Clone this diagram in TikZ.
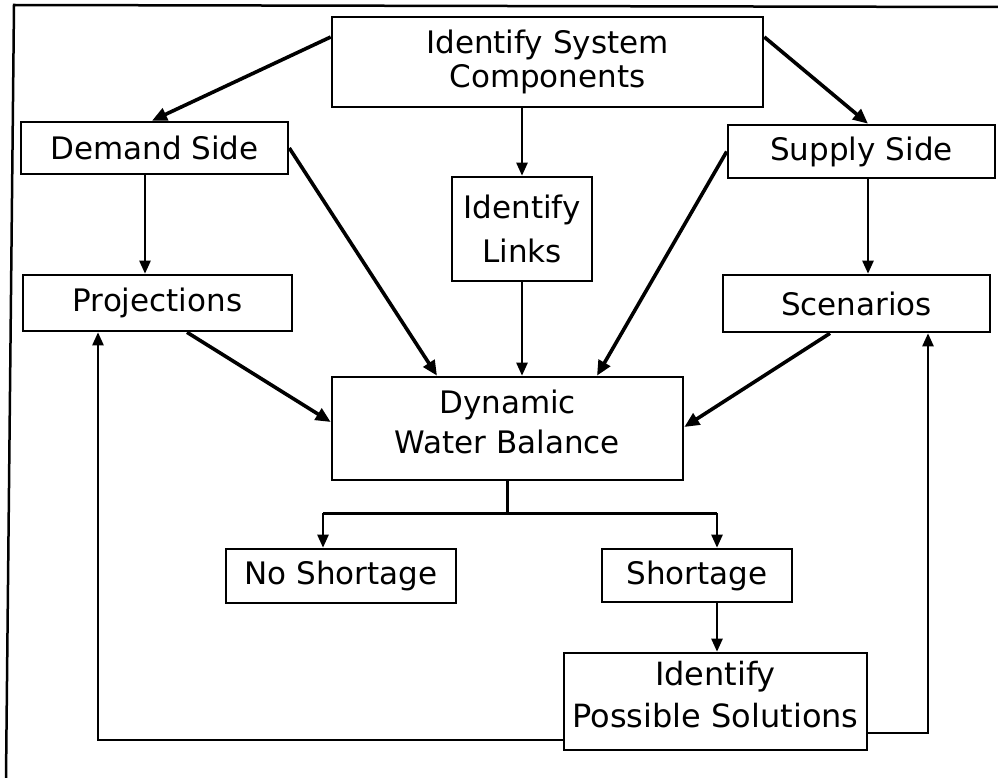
\documentclass[tikz,border=0pt]{standalone}
\usepackage{fontspec}
\setmainfont{DejaVu Sans}
\usetikzlibrary{arrows.meta}
\begin{document}
\begin{tikzpicture}[x=1pt,y=-1pt,
  box/.style={draw,line width=2.6pt,inner sep=0pt,align=center,
    font=\fontsize{31}{37}\selectfont},
  thin/.style={line width=2.4pt,-{Triangle[length=13pt,width=11pt]}},
  thick/.style={line width=3.6pt,-{Triangle[length=15pt,width=13pt]}},
  plain/.style={line width=2.4pt},
]
\useasboundingbox (0,0) rectangle (998,778);

% outer frame (top and left edges only)
\draw[line width=2.5pt] (6,778) -- (14,5) -- (998,7);

% boxes
\node[box,minimum width=431pt,minimum height=90pt,font=\fontsize{31}{34}\selectfont] (isc) at (547.5,62) {Identify System\\Components};
\node[box,minimum width=267pt,minimum height=52pt] (ds) at (154.5,148) {Demand Side};
\node[box,minimum width=267pt,minimum height=53pt] (ss) at (861.5,151.5) {Supply Side};
\node[box,minimum width=140pt,minimum height=104pt,font=\fontsize{31}{44}\selectfont] (links) at (522,229) {Identify\\Links};
\node[box,minimum width=269pt,minimum height=56pt] (proj) at (157.5,303) {Projections};
\node[box,minimum width=267pt,minimum height=57pt] (scen) at (856.5,303.5) {Scenarios};
\node[box,minimum width=351pt,minimum height=103pt,font=\fontsize{31}{40}\selectfont,text depth=14pt] (dwb) at (507.5,428.5) {Dynamic\\Water Balance};
\node[box,minimum width=230pt,minimum height=54pt] (nos) at (341,576) {No Shortage};
\node[box,minimum width=190pt,minimum height=53pt] (sho) at (697,575.5) {Shortage};
\node[box,minimum width=303pt,minimum height=97pt,font=\fontsize{32}{42}\selectfont,text depth=14pt] (ps) at (715.5,701.5) {Identify\\Possible Solutions};

% from the system components
\draw[thick] ([yshift=25pt]isc.west) -- ([xshift=-2.5pt]ds.north);
\draw[thin] (links.north |- isc.south) -- (links.north);
\draw[thick] ([yshift=25pt]isc.east) -- ([xshift=6.5pt]ss.north);

% demand and supply branches
\draw[thin] ([xshift=-9.5pt]ds.south) -- ([xshift=-9.5pt]ds.south |- proj.north);
\draw[thin] ([xshift=6.5pt]ss.south) -- ([xshift=6.5pt]ss.south |- scen.north);

% into the water balance
\draw[thick] (ds.east) -- ([xshift=-70.5pt]dwb.north);
\draw[thin] (links.south) -- (links.south |- dwb.north);
\draw[thick] (ss.west) -- ([xshift=89.5pt]dwb.north);
\draw[thick] ([xshift=29.5pt]proj.south) -- ([yshift=6.5pt]dwb.west);
\draw[thick] ([xshift=-26.5pt]scen.south) -- ([yshift=1.5pt]dwb.east);

% outcome split
\coordinate (split) at ([yshift=-32pt]dwb.south);
\draw[plain] (dwb.south) -- (split);
\draw[plain] ([xshift=-18pt]nos.north |- split) -- ([xshift=20pt]sho.north |- split);
\draw[thin] ([xshift=-18pt]nos.north |- split) -- ([xshift=-18pt]nos.north);
\draw[thin] ([xshift=20pt]sho.north |- split) -- ([xshift=20pt]sho.north);
\draw[thin] ([xshift=20pt]sho.south) -- ([xshift=20pt]sho.south |- ps.north);

% feedback loops
\draw[thin] ([yshift=-38.5pt]ps.west) -| ([xshift=-59.5pt]proj.south);
\draw[thin] ([yshift=-31.5pt]ps.east) -| ([xshift=71.5pt]scen.south);
\end{tikzpicture}
\end{document}
